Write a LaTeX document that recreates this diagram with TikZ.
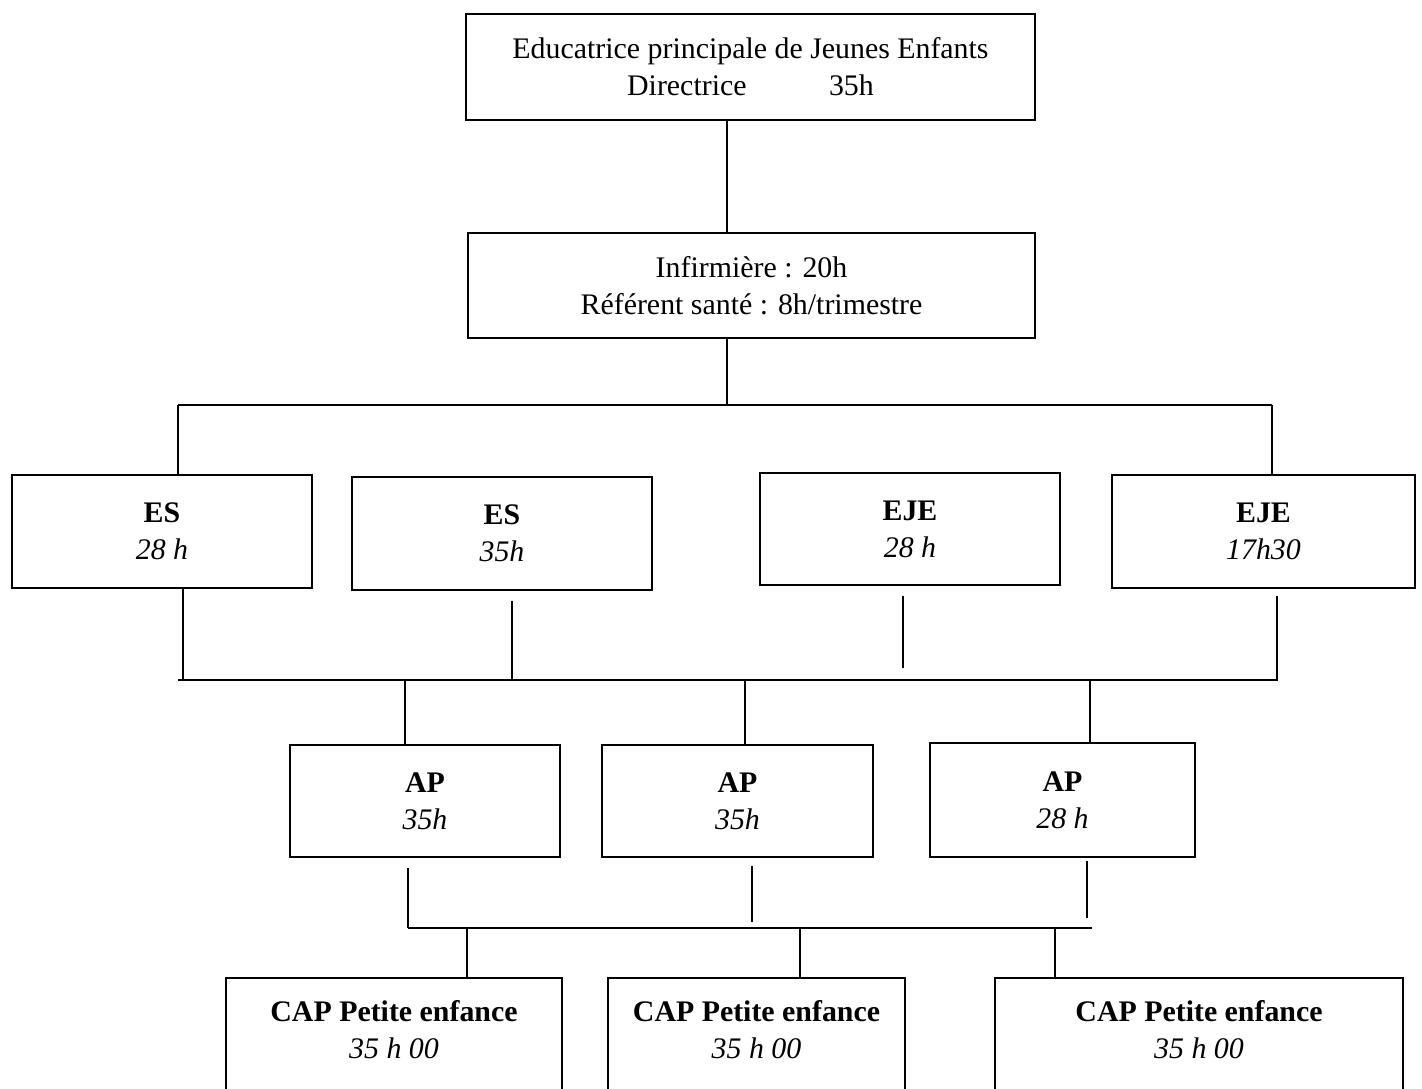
\documentclass[tikz,border=0pt]{standalone}
\usepackage{fontspec}
\setmainfont{Liberation Serif}
\usepackage{tikz}
\usetikzlibrary{calc,positioning}

\begin{document}
\begin{tikzpicture}[x=0.02cm,y=-0.02cm,
    poste/.style={draw,line width=1.3pt,align=center,inner sep=2pt,
      font=\fontsize{17}{21}\selectfont},
    lien/.style={line width=1.2pt}]
            \clip (0,0) rectangle (1422,1088);
            \node[poste,minimum width=11.38cm,minimum height=2.12cm] (dir) at (750.5,67)
              {Educatrice principale de Jeunes Enfants\\Directrice\hspace{1.65cm}35h};
            \node[poste,minimum width=11.34cm,minimum height=2.1cm] (inf) at (751.5,285.5)
              {Infirmière : 20h\\Référent santé : 8h/trimestre};
            \node[poste,minimum width=6cm,minimum height=2.26cm] (es1) at (162,531.5) {\textbf{ES}\\\textit{28 h}};
            \node[poste,minimum width=6cm,minimum height=2.26cm] (es2) at (502,533.5) {\textbf{ES}\\\textit{35h}};
            \node[poste,minimum width=6cm,minimum height=2.24cm] (eje1) at (910,529) {\textbf{EJE}\\\textit{28 h}};
            \node[poste,minimum width=6.06cm,minimum height=2.26cm] (eje2) at (1263.5,531.5) {\textbf{EJE}\\\textit{17h30}};
            \node[poste,minimum width=5.4cm,minimum height=2.24cm] (ap1) at (425,801) {\textbf{AP}\\\textit{35h}};
            \node[poste,minimum width=5.42cm,minimum height=2.24cm] (ap2) at (737.5,801) {\textbf{AP}\\\textit{35h}};
            \node[poste,minimum width=5.3cm,minimum height=2.28cm] (ap3) at (1062.5,800) {\textbf{AP}\\\textit{28 h}};
            \node[poste,minimum width=6.72cm,minimum height=2.8cm] (cap1) at (394,1048) {\textbf{CAP Petite enfance}\\\textit{35 h 00}\\\mbox{}};
            \node[poste,minimum width=5.94cm,minimum height=2.8cm] (cap2) at (756.5,1048) {\textbf{CAP Petite enfance}\\\textit{35 h 00}\\\mbox{}};
            \node[poste,minimum width=8.16cm,minimum height=2.8cm] (cap3) at (1199,1048) {\textbf{CAP Petite enfance}\\\textit{35 h 00}\\\mbox{}};
            \coordinate (t1) at (727,405);
            \coordinate (b1l) at (178,405);
            \coordinate (b1r) at (1272,405);
            \coordinate (b2l) at (178,680);
            \coordinate (b2r) at (1278,680);
            \coordinate (j21) at (183,680);
            \coordinate (j22) at (512,680);
            \coordinate (j23) at (903,680);
            \coordinate (j24) at (1277,680);
            \coordinate (k21) at (405,680);
            \coordinate (k22) at (745,680);
            \coordinate (k23) at (1090,680);
            \coordinate (b3l) at (408,928);
            \coordinate (b3r) at (1092,928);
            \coordinate (j32) at (752,928);
            \coordinate (j33) at (1087,928);
            \coordinate (k31) at (467,928);
            \coordinate (k32) at (800,928);
            \coordinate (k33) at (1055,928);
            \draw[lien] (dir.south -| t1) -- (inf.north -| t1);
            \draw[lien] (inf.south -| t1) -- (t1);
            \draw[lien] (b1l) -- (b1r);
            \draw[lien] (b1l) -- (b1l |- es1.north);
            \draw[lien] (b1r) -- (b1r |- eje2.north);
            \draw[lien] (b2l) -- (b2r);
            \draw[lien] (es1.south -| j21) -- (j21);
            \draw[lien] ($(es2.south -| j22)+(0,10)$) -- (j22);
            \draw[lien] ($(eje1.south -| j23)+(0,10)$) -- ($(j23)+(0,-12)$);
            \draw[lien] ($(eje2.south -| j24)+(0,7)$) -- (j24);
            \draw[lien] (k21) -- (k21 |- ap1.north);
            \draw[lien] (k22) -- (k22 |- ap2.north);
            \draw[lien] (k23) -- (k23 |- ap3.north);
            \draw[lien] (b3l) -- (b3r);
            \draw[lien] ($(ap1.south -| b3l)+(0,10)$) -- (b3l);
            \draw[lien] ($(ap2.south -| j32)+(0,8)$) -- ($(j32)+(0,-6)$);
            \draw[lien] ($(ap3.south -| j33)+(0,3)$) -- ($(j33)+(0,-10)$);
            \draw[lien] (k31) -- (k31 |- cap1.north);
            \draw[lien] (k32) -- (k32 |- cap2.north);
            \draw[lien] (k33) -- (k33 |- cap3.north);
        \end{tikzpicture}
\end{document}
